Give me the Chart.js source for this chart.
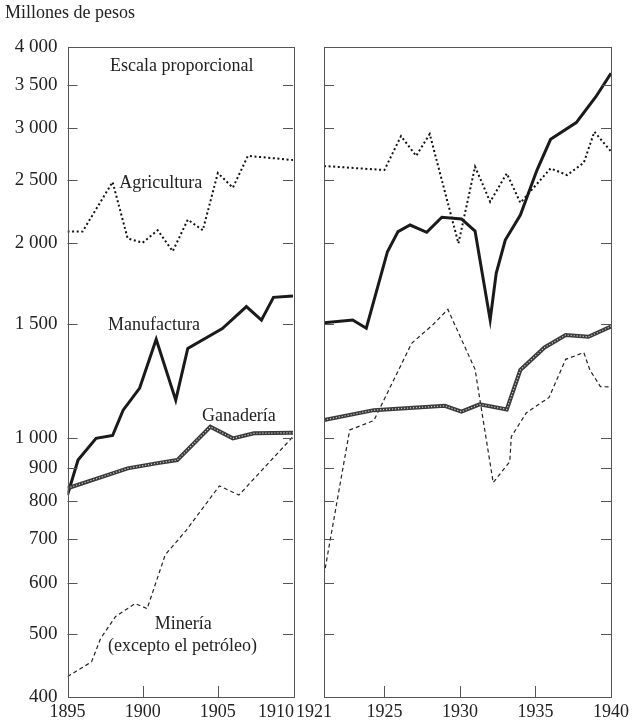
<!DOCTYPE html>
<html>
<head>
<meta charset="utf-8">
<script src="https://cdn.jsdelivr.net/npm/chart.js@4.4.1/dist/chart.umd.min.js"></script>
<style>
  body { margin: 0; background: #fff; width: 633px; height: 725px; position: relative; overflow: hidden; }
  canvas { position: absolute; top: 0; }
  #left { left: 0; }
  #right { left: 290px; }
</style>
</head>
<body>
<canvas id="left" width="300" height="725"></canvas>
<canvas id="right" width="343" height="725"></canvas>
<script>
// escala proporcional (log), millones de pesos
const yTicks = [400, 500, 600, 700, 800, 900, 1000, 1500, 2000, 2500, 3000, 3500, 4000];
const yearLabelsA = [1895, 1900, 1905, 1910];
const yearLabelsB = [1921, 1925, 1930, 1935, 1940];

// 1895-1910
const agriYearsA = [1895, 1896, 1898, 1899, 1900, 1901, 1902, 1903, 1904, 1905, 1906, 1907, 1910];
const agriA      = [2080, 2080, 2480, 2030, 2000, 2090, 1940, 2170, 2090, 2560, 2430, 2720, 2680];
const manuYearsA = [1895, 1895.7, 1896.9, 1898, 1898.7, 1899.8, 1900.9, 1902.2, 1903, 1905.3, 1906.9, 1907.9, 1908.7, 1910];
const manuA      = [818, 926, 1000, 1010, 1105, 1195, 1420, 1145, 1375, 1475, 1595, 1520, 1648, 1656];
const ganaYearsA = [1895, 1897, 1899, 1901, 1902.3, 1904.5, 1906, 1907.4, 1910];
const ganaA      = [838, 868, 899, 916, 926, 1042, 1000, 1018, 1020];
const mineYearsA = [1895, 1896.6, 1897.2, 1898.2, 1899.5, 1900.3, 1901.5, 1902.9, 1905.1, 1906.4, 1910];
const mineA      = [430, 453, 492, 532, 557, 547, 662, 722, 845, 818, 1006];

// 1921-1940
const agriYearsB = [1921, 1925, 1926.1, 1927.1, 1928, 1929.9, 1931, 1932, 1933.1, 1934, 1936, 1937.1, 1938.2, 1938.9, 1940];
const agriB      = [2624, 2587, 2918, 2720, 2939, 1995, 2618, 2312, 2556, 2304, 2602, 2541, 2655, 2963, 2762];
const manuYearsB = [1921, 1922.9, 1923.8, 1925.2, 1925.9, 1926.7, 1927.8, 1928.8, 1930.1, 1931, 1932, 1932.4, 1933, 1934, 1935.1, 1936, 1937.7, 1939, 1940];
const manuB      = [1506, 1521, 1477, 1937, 2080, 2129, 2075, 2188, 2175, 2084, 1521, 1794, 2019, 2206, 2587, 2884, 3060, 3354, 3644];
const ganaYearsB = [1921, 1924.3, 1929, 1930.1, 1931.3, 1933.1, 1934, 1935.6, 1937, 1938.5, 1940];
const ganaB      = [1067, 1105, 1122, 1099, 1128, 1108, 1274, 1380, 1442, 1433, 1486];
const mineYearsB = [1921, 1922.7, 1924.3, 1926.8, 1928.2, 1929.2, 1931, 1932.2, 1933.3, 1933.4, 1934.4, 1935.9, 1937, 1938.2, 1938.6, 1939.3, 1940];
const mineB      = [616, 1030, 1065, 1400, 1495, 1579, 1277, 855, 921, 1006, 1095, 1156, 1323, 1355, 1274, 1201, 1200];

const FONT = '"Liberation Serif", "DejaVu Serif", serif';
const INK = '#222';

function pts(years, vals) {
  return years.map((yr, i) => ({ x: yr, y: vals[i] }));
}

function seriesSets(agri, manu, gana, mine) {
  const base = { pointRadius: 0, tension: 0, fill: false };
  return [
    { ...base, label: 'Ganadería', data: gana, borderColor: 'rgba(255,255,255,0.75)', borderWidth: 1.2, borderDash: [1.2, 1.8], order: 0 },
    { ...base, label: 'Ganadería', data: gana, borderColor: '#3a3a3a', borderWidth: 4, order: 1 },
    { ...base, label: 'Manufactura', data: manu, borderColor: '#1a1a1a', borderWidth: 3, borderJoinStyle: 'miter', order: 2 },
    { ...base, label: 'Agricultura', data: agri, borderColor: '#111', borderWidth: 2, borderDash: [2, 2.6], order: 3 },
    { ...base, label: 'Minería', data: mine, borderColor: '#222', borderWidth: 1.2, borderDash: [4, 3], order: 4 }
  ];
}

// marco, marcas interiores, años y rótulos
const frame = {
  id: 'frame',
  afterDatasetsDraw(chart, args, o) {
    const { ctx, chartArea: a, scales: { x, y } } = chart;
    ctx.save();
    ctx.strokeStyle = '#555';
    ctx.lineWidth = 1;
    ctx.strokeRect(Math.round(a.left) + 0.5, Math.round(a.top) + 0.5, Math.round(a.right - a.left), Math.round(a.bottom - a.top));
    ctx.beginPath();
    yTicks.slice(1, -1).forEach(v => {
      const py = Math.round(y.getPixelForValue(v)) + 0.5;
      ctx.moveTo(a.left, py); ctx.lineTo(a.left + 10, py);
      ctx.moveTo(a.right, py); ctx.lineTo(a.right - 10, py);
    });
    o.years.slice(1, -1).forEach(v => {
      const px = Math.round(x.getPixelForValue(v)) + 0.5;
      ctx.moveTo(px, a.bottom); ctx.lineTo(px, a.bottom - 11);
    });
    ctx.stroke();

    ctx.fillStyle = INK;
    ctx.font = '18px ' + FONT;
    ctx.textAlign = 'center';
    ctx.textBaseline = 'middle';
    o.years.forEach((v, i) => {
      ctx.fillText(String(v), x.getPixelForValue(v) + (o.shift[i] || 0), a.bottom + 15);
    });
    (o.notes || []).forEach(n => {
      ctx.fillText(n.text, x.getPixelForValue(n.x), y.getPixelForValue(n.y));
    });
    if (o.unit) {
      ctx.textAlign = 'left';
      ctx.fillText(o.unit, 5, 13);
    }
    ctx.restore();
  }
};

function makePanel(id, xMin, xMax, datasets, showY, padding, frameOpts) {
  return new Chart(document.getElementById(id), {
    type: 'line',
    data: { datasets },
    options: {
      responsive: false,
      animation: false,
      layout: { padding },
      plugins: { legend: { display: false }, tooltip: { enabled: false }, frame: frameOpts },
      scales: {
        x: { type: 'linear', min: xMin, max: xMax, display: false },
        y: {
          type: 'logarithmic', min: 400, max: 4000, display: showY,
          afterBuildTicks: s => { s.ticks = yTicks.map(v => ({ value: v })); },
          afterFit: s => { if (showY) s.width = 67.5; },
          grid: { display: false, drawTicks: false },
          border: { display: false },
          ticks: {
            autoSkip: false, padding: 10, color: INK,
            font: { family: FONT, size: 19 },
            callback: v => String(v).replace(/\B(?=(\d{3})+(?!\d))/g, ' ')
          }
        }
      }
    },
    plugins: [frame]
  });
}

makePanel('left', 1895, 1910,
  seriesSets(pts(agriYearsA, agriA), pts(manuYearsA, manuA), pts(ganaYearsA, ganaA), pts(mineYearsA, mineA)),
  true, { left: 0, top: 47, right: 7, bottom: 28 },
  {
    years: yearLabelsA, shift: [0, 0, 0, -17], unit: 'Millones de pesos',
    notes: [
      { text: 'Escala proporcional', x: 1902.6, y: 3730 },
      { text: 'Agricultura', x: 1901.2, y: 2470 },
      { text: 'Manufactura', x: 1900.75, y: 1495 },
      { text: 'Ganadería', x: 1906.4, y: 1080 },
      { text: 'Minería', x: 1902.7, y: 518 },
      { text: '(excepto el petróleo)', x: 1902.65, y: 478 }
    ]
  });

makePanel('right', 1921, 1940,
  seriesSets(pts(agriYearsB, agriB), pts(manuYearsB, manuB), pts(ganaYearsB, ganaB), pts(mineYearsB, mineB)),
  false, { left: 34, top: 47, right: 22, bottom: 28 },
  { years: yearLabelsB, shift: [-10, 0, 0, 0, 0] });
</script>
</body>
</html>
